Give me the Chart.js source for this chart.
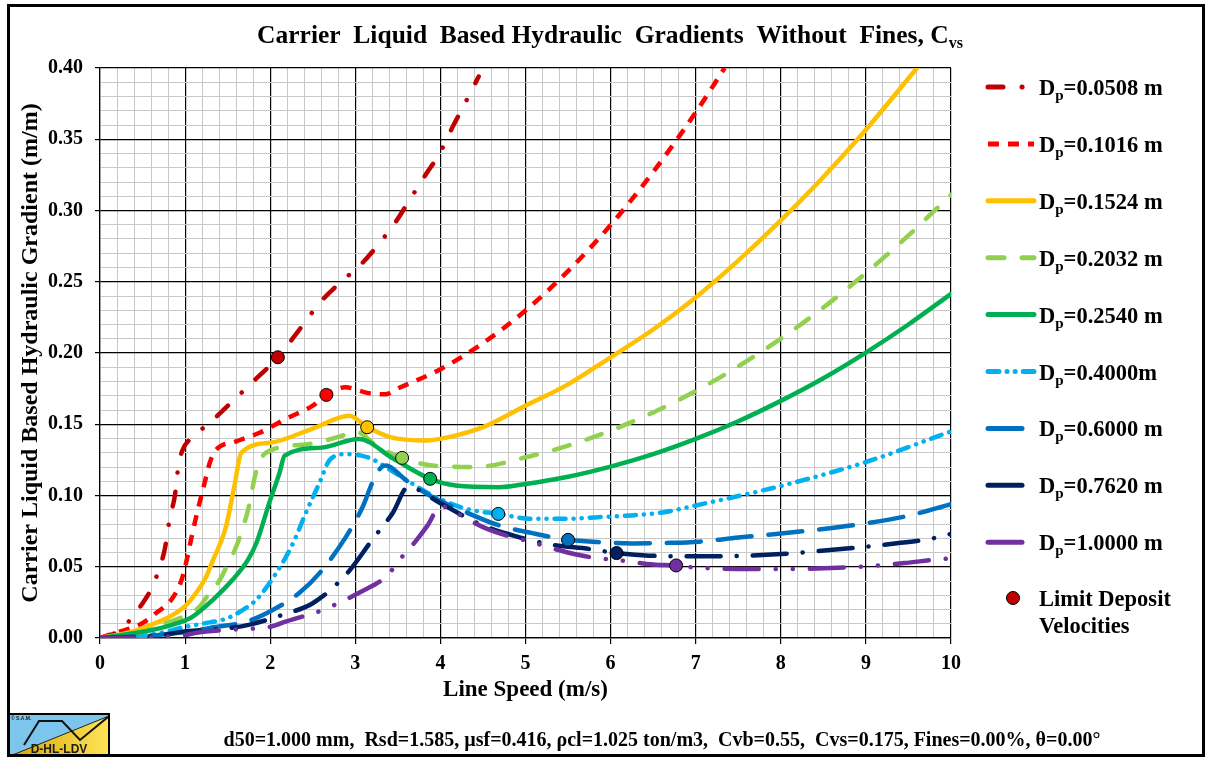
<!DOCTYPE html>
<html>
<head>
<meta charset="utf-8">
<script src="https://cdn.jsdelivr.net/npm/chart.js@4.4.1/dist/chart.umd.min.js"></script>
<style>
  html, body { margin: 0; padding: 0; background: #fff; }
  #wrap { width: 1208px; height: 758px; }
</style>
</head>
<body>
<div id="wrap"><canvas id="gradChart" width="1208" height="758"></canvas></div>
<script>
const SERIF = '"Liberation Serif", "Times New Roman", serif';

// ---- pipe diameters (legend text after "Dp") ----
const pipeLabels = ["=0.0508 m", "=0.1016 m", "=0.1524 m", "=0.2032 m", "=0.2540 m",
                    "=0.4000m", "=0.6000 m", "=0.7620 m", "=1.0000 m"];

// ---- hydraulic gradient curves: line speed (m/s) / gradient (m/m) ----
const speed0508 = [0, 0.18, 0.35, 0.49, 0.59, 0.68, 0.76, 0.82, 0.88, 0.92, 0.97, 1.05, 1.29, 1.52, 1.8, 2.09, 2.35, 2.6, 2.83, 3.07, 3.28, 3.48, 3.65, 3.83, 3.99, 4.15, 4.30, 4.45];
const grad0508  = [0, 0.0035, 0.0124, 0.0235, 0.033, 0.0458, 0.062, 0.084, 0.100, 0.120, 0.132, 0.139, 0.151, 0.164, 0.180, 0.197, 0.217, 0.2364, 0.2498, 0.2624, 0.2768, 0.2925, 0.3085, 0.3254, 0.340, 0.3594, 0.3765, 0.394];

const speed1016 = [0, 0.2, 0.47, 0.66, 0.84, 0.96, 1.02, 1.08, 1.15, 1.23, 1.29, 1.35, 1.6, 1.875, 2.19, 2.5, 2.66, 2.88, 3.14, 3.35, 3.5, 4.0, 4.5, 5.0, 5.5, 6.0, 6.5, 7.0, 7.34];
const grad1016  = [0, 0.004, 0.0094, 0.0176, 0.027, 0.041, 0.055, 0.072, 0.090, 0.109, 0.123, 0.131, 0.138, 0.144, 0.154, 0.163, 0.1706, 0.176, 0.172, 0.171, 0.1751, 0.1886, 0.2069, 0.2298, 0.2575, 0.2898, 0.3270, 0.3688, 0.40];

const speed1524 = [0, 0.39, 0.70, 0.86, 1.0, 1.13, 1.25, 1.33, 1.41, 1.48, 1.58, 1.66, 2.0, 2.5, 2.93, 3.14, 3.41, 3.83, 4.1, 4.5, 5.0, 5.5, 6.0, 6.5, 7.0, 7.5, 8.0, 8.5, 9.0, 9.6];
const grad1524  = [0, 0.0047, 0.0117, 0.0164, 0.0223, 0.0317, 0.0434, 0.055, 0.066, 0.078, 0.107, 0.130, 0.137, 0.147, 0.156, 0.148, 0.141, 0.1386, 0.141, 0.148, 0.163, 0.178, 0.197, 0.2165, 0.239, 0.2648, 0.293, 0.3235, 0.3567, 0.40];

const speed2032 = [0, 0.47, 0.8, 0.98, 1.17, 1.29, 1.4, 1.5, 1.6, 1.74, 1.84, 1.95, 2.44, 2.9, 3.0, 3.25, 3.55, 3.91, 4.42, 5.0, 5.5, 6.0, 6.5, 7.0, 7.5, 8.0, 8.5, 9.0, 9.5, 10.0];
const grad2032  = [0, 0.003, 0.011, 0.015, 0.022, 0.032, 0.040, 0.0516, 0.064, 0.090, 0.118, 0.130, 0.136, 0.143, 0.145, 0.135, 0.1264, 0.121, 0.120, 0.1268, 0.1350, 0.1455, 0.1583, 0.1733, 0.1906, 0.2101, 0.2319, 0.2561, 0.2825, 0.311];

const speed2540 = [0, 0.47, 0.86, 1.09, 1.33, 1.56, 1.74, 1.84, 1.99, 2.11, 2.17, 2.6, 3.04, 3.45, 3.88, 4.18, 4.69, 5.0, 5.5, 6.0, 6.5, 7.0, 7.5, 8.0, 8.5, 9.0, 9.5, 10.0];
const grad2540  = [0, 0.004, 0.0094, 0.015, 0.027, 0.041, 0.055, 0.067, 0.095, 0.116, 0.128, 0.1336, 0.1397, 0.1257, 0.1117, 0.107, 0.1058, 0.1081, 0.1132, 0.1203, 0.1290, 0.1397, 0.1521, 0.1664, 0.1823, 0.2003, 0.2200, 0.2415];

const speed4000 = [0, 0.47, 0.59, 0.8, 0.94, 1.2, 1.5, 1.76, 1.84, 2.07, 2.27, 2.42, 2.58, 2.7, 2.89, 3.07, 3.2, 3.49, 3.91, 4.3, 4.68, 5.08, 5.47, 5.85, 6.24, 6.63, 7.0, 8.02, 9.0, 10.0];
const grad4000  = [0, 0.0007, 0.0023, 0.0047, 0.007, 0.010, 0.014, 0.023, 0.027, 0.0455, 0.0667, 0.088, 0.109, 0.125, 0.129, 0.128, 0.1255, 0.115, 0.100, 0.0907, 0.0871, 0.0836, 0.0836, 0.0848, 0.086, 0.0883, 0.093, 0.107, 0.1235, 0.145];

const speed6000 = [0, 0.66, 1.09, 1.33, 1.72, 2.03, 2.34, 2.58, 2.89, 3.09, 3.2, 3.3, 3.36, 3.6, 3.91, 4.3, 4.69, 5.08, 5.5, 5.85, 6.25, 6.63, 7.04, 7.5, 8.0, 8.5, 9.0, 9.5, 10.0];
const grad6000  = [0, 0.002, 0.005, 0.0075, 0.0115, 0.0197, 0.0315, 0.0455, 0.071, 0.0925, 0.109, 0.1195, 0.121, 0.1105, 0.0988, 0.0883, 0.079, 0.0736, 0.0689, 0.0673, 0.0664, 0.0667, 0.0676, 0.0705, 0.0733, 0.0765, 0.0805, 0.0858, 0.094];

const speed7620 = [0, 0.66, 1.02, 1.52, 1.76, 2.15, 2.5, 2.89, 3.2, 3.44, 3.62, 3.99, 4.46, 4.88, 5.31, 5.75, 6.07, 6.45, 7.08, 7.53, 8.0, 8.41, 8.84, 9.29, 9.75, 10.0];
const grad7620  = [0, 0.0016, 0.0047, 0.007, 0.0094, 0.0164, 0.0244, 0.0444, 0.069, 0.0878, 0.106, 0.0949, 0.080, 0.0715, 0.0655, 0.0625, 0.0596, 0.0578, 0.0573, 0.0577, 0.0589, 0.0608, 0.0631, 0.066, 0.0695, 0.073];

const speed10000 = [0, 0.4, 0.94, 1.17, 1.56, 1.78, 2.01, 2.19, 2.62, 3.05, 3.36, 3.55, 3.71, 3.85, 4.0, 4.34, 4.55, 4.77, 5.0, 5.41, 5.63, 5.86, 6.08, 6.5, 6.77, 6.98, 7.2, 7.65, 8.1, 8.5, 9.0, 9.45, 9.9, 10.0];
const grad10000  = [0, 0.0003, 0.0015, 0.004, 0.0059, 0.0065, 0.008, 0.0117, 0.0197, 0.032, 0.043, 0.057, 0.068, 0.079, 0.0925, 0.0825, 0.0766, 0.072, 0.0685, 0.0614, 0.0582, 0.0559, 0.0547, 0.0516, 0.0509, 0.0495, 0.0488, 0.0484, 0.0484, 0.0490, 0.0502, 0.0526, 0.0554, 0.0557];

// ---- limit deposit velocities, one per pipe diameter ----
const ldvSpeed = [2.09, 2.66, 3.14, 3.55, 3.88, 4.68, 5.50, 6.07, 6.77];
const ldvGrad  = [0.197, 0.1706, 0.1479, 0.1264, 0.1117, 0.0871, 0.0689, 0.0596, 0.0509];

const footerText = "d50=1.000 mm,  Rsd=1.585, \u00B5sf=0.416, \u03C1cl=1.025 ton/m3,  Cvb=0.55,  Cvs=0.175, Fines=0.00%, \u03B8=0.00\u00B0";

// line styles per curve
const lineStyles = [
  { color: "#C00000", dash: [15, 19, 0.1, 19], cap: "round" },
  { color: "#FF0000", dash: [11, 9], cap: "butt" },
  { color: "#FFC000", dash: [], cap: "round" },
  { color: "#92D050", dash: [16, 18], cap: "round" },
  { color: "#00B050", dash: [], cap: "round" },
  { color: "#00B0F0", dash: [11, 8, 0.1, 8, 0.1, 8], cap: "round" },
  { color: "#0070C0", dash: [34, 17], cap: "round" },
  { color: "#002060", dash: [34, 16, 0.1, 16], cap: "round" },
  { color: "#7030A0", dash: [34, 17, 0.1, 17, 0.1, 17], cap: "round" }
];

const curves = [
  [speed0508, grad0508], [speed1016, grad1016], [speed1524, grad1524],
  [speed2032, grad2032], [speed2540, grad2540], [speed4000, grad4000],
  [speed6000, grad6000], [speed7620, grad7620], [speed10000, grad10000]
];

const datasets = curves.map(([xs, ys], i) => ({
  label: "Dp" + pipeLabels[i],
  data: xs.map((x, k) => ({ x, y: ys[k] })),
  borderColor: lineStyles[i].color,
  borderWidth: 4.5,
  borderDash: lineStyles[i].dash,
  borderCapStyle: lineStyles[i].cap,
  borderJoinStyle: "round",
  pointRadius: 0,
  cubicInterpolationMode: "monotone",
  fill: false,
  order: 20 - i
}));

datasets.push({
  type: "scatter",
  label: "Limit Deposit Velocities",
  data: ldvSpeed.map((x, k) => ({ x, y: ldvGrad[k] })),
  pointRadius: 6.5,
  pointBackgroundColor: lineStyles.map(s => s.color),
  pointBorderColor: "#000",
  pointBorderWidth: 1,
  order: 0
});

const isMajorX = v => Math.abs(v - Math.round(v)) < 1e-6;
const isMajorY = v => Math.abs(v * 20 - Math.round(v * 20)) < 1e-6;

// text with a subscript part, e.g. D + p + "=0.0508 m"
function drawSubText(ctx, x, y, main, sub, tail, size, subSize, drop) {
  ctx.font = `bold ${size}px ${SERIF}`;
  ctx.fillText(main, x, y);
  x += ctx.measureText(main).width;
  ctx.font = `bold ${subSize}px ${SERIF}`;
  ctx.fillText(sub, x, y + drop);
  x += ctx.measureText(sub).width;
  if (tail) {
    ctx.font = `bold ${size}px ${SERIF}`;
    ctx.fillText(tail, x, y);
  }
}

const decorPlugin = {
  id: "decor",
  beforeDraw(chart) {
    const ctx = chart.ctx;
    ctx.save();
    ctx.fillStyle = "#fff";
    ctx.fillRect(0, 0, chart.width, chart.height);
    ctx.restore();
  },
  afterDraw(chart) {
    const ctx = chart.ctx;
    ctx.save();
    ctx.fillStyle = "#000";
    ctx.textBaseline = "alphabetic";
    ctx.textAlign = "left";

    // title with Cvs subscript
    const titleMain = "Carrier  Liquid  Based Hydraulic  Gradients  Without  Fines, C";
    ctx.font = `bold 25.5px ${SERIF}`;
    const w1 = ctx.measureText(titleMain).width;
    ctx.font = `bold 16px ${SERIF}`;
    const w2 = ctx.measureText("vs").width;
    drawSubText(ctx, 610 - (w1 + w2) / 2, 43, titleMain, "vs", "", 25.5, 16, 5);

    // legend
    const lx0 = 988, lx1 = 1034, tx = 1039;
    pipeLabels.forEach((lab, i) => {
      const y = 87 + i * 56.9;
      const st = lineStyles[i];
      ctx.save();
      ctx.strokeStyle = st.color;
      ctx.lineWidth = 5;
      ctx.lineCap = st.cap;
      ctx.setLineDash(st.dash);
      ctx.beginPath();
      ctx.moveTo(lx0, y);
      ctx.lineTo(i >= 6 ? lx1 - 7 : lx1, y);
      ctx.stroke();
      ctx.restore();
      drawSubText(ctx, tx, y + 8, "D", "p", lab, 22.5, 15, 5);
    });
    // LDV marker entry
    ctx.beginPath();
    ctx.arc(1013, 598, 6.5, 0, Math.PI * 2);
    ctx.fillStyle = "#C00000";
    ctx.fill();
    ctx.lineWidth = 1;
    ctx.strokeStyle = "#000";
    ctx.stroke();
    ctx.fillStyle = "#000";
    ctx.font = `bold 22.5px ${SERIF}`;
    ctx.fillText("Limit Deposit", tx, 606);
    ctx.fillText("Velocities", tx, 633);

    // footer parameters
    ctx.font = `bold 20px ${SERIF}`;
    ctx.textAlign = "center";
    ctx.fillText(footerText, 662, 746);
    ctx.textAlign = "left";

    // logo badge
    const bx = 8, by = 714, bw = 101, bh = 42;
    const grad = ctx.createLinearGradient(bx, 0, bx + bw, 0);
    grad.addColorStop(0, "#D4A400");
    grad.addColorStop(1, "#FFE45A");
    ctx.fillStyle = grad;
    ctx.fillRect(bx, by, bw, bh);
    ctx.fillStyle = "#7CC6EE";
    ctx.beginPath();
    ctx.moveTo(bx, by);
    ctx.lineTo(bx + bw, by);
    ctx.lineTo(bx + bw, by + 2);
    ctx.lineTo(bx + 2, by + bh);
    ctx.lineTo(bx, by + bh);
    ctx.closePath();
    ctx.fill();
    ctx.strokeStyle = "#222";
    ctx.lineWidth = 1;
    ctx.beginPath();
    ctx.moveTo(bx + 2, by + bh);
    ctx.lineTo(bx + bw, by + 2);
    ctx.stroke();
    ctx.lineWidth = 2;
    ctx.strokeStyle = "#111";
    ctx.beginPath();
    ctx.moveTo(24, 745);
    ctx.lineTo(39, 721);
    ctx.lineTo(62, 721);
    ctx.lineTo(80, 740);
    ctx.lineTo(108, 717);
    ctx.stroke();
    ctx.lineWidth = 2;
    ctx.strokeStyle = "#000";
    ctx.strokeRect(bx, by, bw, bh);
    ctx.fillStyle = "#1a1a1a";
    ctx.font = "bold 12px 'Liberation Sans', Arial, sans-serif";
    ctx.textAlign = "center";
    ctx.fillText("D-HL-LDV", 59, 753);
    ctx.font = "bold 5px 'Liberation Sans', Arial, sans-serif";
    ctx.textAlign = "left";
    ctx.fillText("\u00A9 S.A.M.", 11, 720);

    // outer frame
    ctx.lineWidth = 3;
    ctx.strokeStyle = "#000";
    ctx.strokeRect(8.5, 5.5, 1195, 750);
    ctx.restore();
  }
};

new Chart(document.getElementById("gradChart").getContext("2d"), {
  type: "line",
  data: { datasets },
  plugins: [decorPlugin],
  options: {
    responsive: false,
    animation: false,
    events: [],
    layout: { padding: { left: 8, right: 257, top: 68, bottom: 53 } },
    plugins: { legend: { display: false }, tooltip: { enabled: false }, title: { display: false } },
    scales: {
      x: {
        type: "linear",
        min: 0,
        max: 10,
        afterFit: s => { s.height = 67; },
        ticks: {
          stepSize: 0.2,
          autoSkip: false,
          maxRotation: 0,
          padding: 8,
          color: "#000",
          font: { family: SERIF, size: 20, weight: "bold" },
          callback: v => isMajorX(v) ? String(Math.round(v)) : ""
        },
        grid: {
          color: c => isMajorX(c.tick.value) ? "#000" : "#c8c8c8",
          lineWidth: c => isMajorX(c.tick.value) ? 1.2 : 1,
          tickColor: c => isMajorX(c.tick.value) ? "#000" : "rgba(0,0,0,0)",
          tickLength: 6
        },
        border: { color: "#000", width: 1.2 },
        title: {
          display: true,
          text: "Line Speed (m/s)",
          color: "#000",
          font: { family: SERIF, size: 23, weight: "bold" },
          padding: { top: 0, bottom: 1 }
        }
      },
      y: {
        min: 0,
        max: 0.4,
        afterFit: s => { s.width = 92; },
        ticks: {
          stepSize: 0.01,
          autoSkip: false,
          padding: 12,
          color: "#000",
          font: { family: SERIF, size: 20, weight: "bold" },
          callback: v => isMajorY(v) ? v.toFixed(2) : ""
        },
        grid: {
          color: c => isMajorY(c.tick.value) ? "#000" : "#c8c8c8",
          lineWidth: c => isMajorY(c.tick.value) ? 1.2 : 1,
          tickColor: c => isMajorY(c.tick.value) ? "#000" : "rgba(0,0,0,0)",
          tickLength: 5
        },
        border: { color: "#000", width: 1.2 },
        title: {
          display: true,
          text: "Carrier Liquid Based Hydraulic Gradient (m/m)",
          color: "#000",
          font: { family: SERIF, size: 24, weight: "bold" },
          padding: { top: 8, bottom: 0 }
        }
      }
    }
  }
});
</script>
</body>
</html>
